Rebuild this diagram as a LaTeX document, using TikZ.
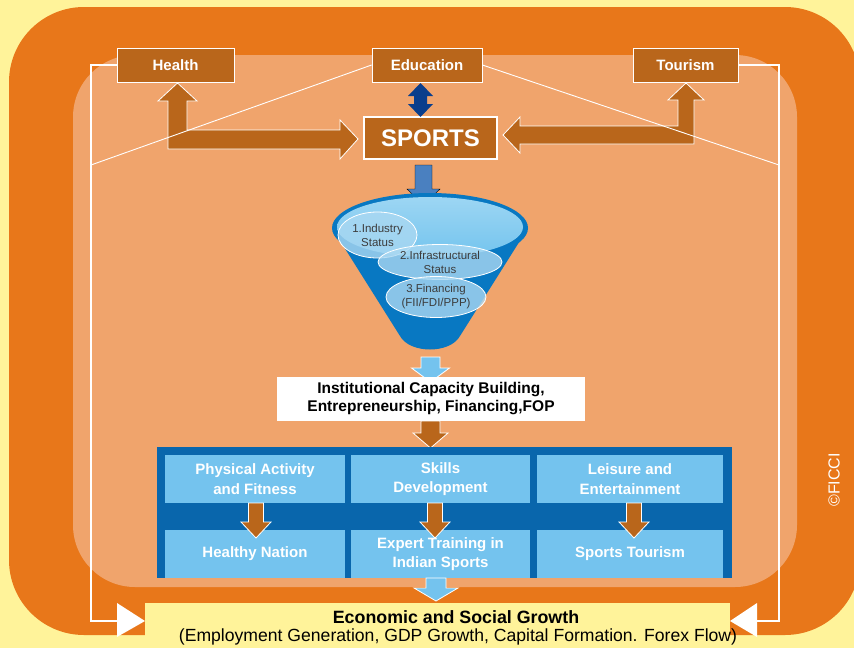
\documentclass[tikz,border=0pt]{standalone}
\usepackage{fontspec}
\setmainfont{Liberation Sans}
\usetikzlibrary{shapes.geometric}
\definecolor{bgY}{RGB}{255,243,154}
\definecolor{orO}{RGB}{232,119,26}
\definecolor{salm}{RGB}{240,164,108}
\definecolor{brn}{RGB}{185,102,27}
\definecolor{navy}{RGB}{10,62,140}
\definecolor{panelB}{RGB}{9,102,172}
\definecolor{cellB}{RGB}{116,195,238}
\definecolor{arrB}{RGB}{74,128,192}
\definecolor{funB}{RGB}{8,120,194}
\definecolor{funL}{RGB}{115,196,238}
\definecolor{ellB}{RGB}{170,216,242}
\definecolor{txtG}{RGB}{60,60,60}
\newcommand\dnarrow[7]{% style, xc, ytop, ybase, ytip, half shaft, half head
  \filldraw[#1] (#2-#6,#3) -- (#2+#6,#3) -- (#2+#6,#4) -- (#2+#7,#4) -- (#2,#5) -- (#2-#7,#4) -- (#2-#6,#4) -- cycle;}
\tikzset{
  topbox/.style={fill=brn, draw=white, line width=0.8pt, text=white,
    font=\bfseries\fontsize{15}{18}\selectfont, minimum height=34pt, inner sep=0pt},
  cellbox/.style={fill=cellB, text=white, font=\bfseries\fontsize{15}{19.5}\selectfont,
    align=center, inner sep=0pt},
  frameline/.style={white, line width=1.1pt},
  brownarrow/.style={fill=brn, draw=white, line width=0.8pt},
  lbluearrow/.style={fill=cellB, draw=white, line width=0.8pt},
  funell/.style={ellipse, fill=ellB, fill opacity=0.8, text opacity=1, draw=white, line width=0.8pt,
    text=txtG, font=\fontsize{11.5}{14}\selectfont, align=center, inner sep=0pt},
}
\begin{document}
\begin{tikzpicture}[x=1pt,y=-1pt]
\useasboundingbox (0,0) rectangle (854,648);
\fill[bgY] (0,0) rectangle (854,648);
\fill[orO, rounded corners=75pt] (9,7) rectangle (860,635);
\fill[salm, rounded corners=62pt] (73,55) rectangle (797,587);

% top boxes
\node[topbox, minimum width=117pt] (health) at (175.5,65) {Health};
\node[topbox, minimum width=110pt] (edu) at (427,65) {Education};
\node[topbox, minimum width=105pt] (tour) at (685.5,65) {Tourism};
\node[fill=brn, draw=white, line width=1.2pt, text=white, minimum width=133pt, minimum height=42pt,
  inner sep=0pt, font=\bfseries\fontsize{24}{28}\selectfont] (sports) at (430.5,138) {SPORTS};

% L-shaped block arrows
\filldraw[brownarrow] (177.5,83) -- (197,101) -- (187,101) -- (187,130) -- (340,130) -- (340,120)
  -- (358,139) -- (340,159) -- (340,149) -- (168,149) -- (168,101) -- (158,101) -- cycle;
\filldraw[brownarrow] (503,135) -- (520,117) -- (520,126) -- (678,126) -- (678,100) -- (668,100)
  -- (686,83) -- (704,100) -- (694,100) -- (694,144) -- (520,144) -- (520,153) -- cycle;
% double arrow education-sports
\fill[navy] (420.5,83) -- (433,96) -- (427,96) -- (427,104) -- (433,104) -- (420.5,117)
  -- (408,104) -- (414,104) -- (414,96) -- (408,96) -- cycle;

% frame lines
\coordinate (fl) at (91,621);
\coordinate (fr) at (779,621);
\coordinate (dl) at (91,165);
\coordinate (dr) at (779,165);
\draw[frameline] (health.west) -| (fl) -- (117,621);
\draw[frameline] (tour.east) -| (fr) -- (757,621);
\draw[frameline, line width=0.9pt] (edu.west) -- (dl);
\draw[frameline, line width=0.9pt] (edu.east) -- (dr);
% redraw boxes over lines
\node[topbox, minimum width=117pt] at (health) {Health};
\node[topbox, minimum width=110pt] at (edu) {Education};
\node[topbox, minimum width=105pt] at (tour) {Tourism};

% arrow sports -> funnel
\dnarrow{fill=arrB}{423.5}{165}{189}{205}{8.5}{16.5}

% funnel
\fill[funB] (332,228) -- (400,336) .. controls (410,354) and (450,354) .. (460,336) -- (528,228) -- cycle;
\fill[funB] (430,228) ellipse [x radius=98, y radius=35];
\shade[top color=funL!70!white, bottom color=funL] (430,227) ellipse [x radius=93, y radius=30];
\node[funell, minimum width=79pt, minimum height=46pt] (e1) at (377.5,235) {1.Industry\\Status};
\node[funell, minimum width=124pt, minimum height=35pt] (e2) at (440,262) {2.Infrastructural\\Status};
\node[funell, minimum width=100pt, minimum height=41pt] (e3) at (436,297) {3.Financing\\(FII/FDI/PPP)};

% arrow funnel -> institutional
\dnarrow{lbluearrow}{430.5}{357}{368}{382}{9.5}{19}
\node[fill=white, minimum width=308pt, minimum height=44pt, inner sep=0pt, align=center,
  font=\bfseries\fontsize{15.5}{18}\selectfont] (inst) at (431,399)
  {Institutional Capacity Building,\\Entrepreneurship, Financing,FOP};
\dnarrow{brownarrow}{430.5}{421}{433}{448}{9.5}{17.5}

% panel
\fill[panelB] (157,447) rectangle (732,578);
\node[cellbox, minimum width=180pt, minimum height=48pt] (c11) at (255,479) {Physical Activity\\and Fitness};
\node[cellbox, minimum width=179pt, minimum height=48pt] (c12) at (440.5,479) {Skills\\Development};
\node[cellbox, minimum width=186pt, minimum height=48pt] (c13) at (630,479) {Leisure and\\Entertainment};
\node[cellbox, minimum width=180pt, minimum height=48pt] (c21) at (255,554) {Healthy Nation};
\node[cellbox, minimum width=179pt, minimum height=48pt] (c22) at (440.5,554) {Expert Training in\\Indian Sports};
\node[cellbox, minimum width=186pt, minimum height=48pt] (c23) at (630,554) {Sports Tourism};
\dnarrow{brownarrow}{256}{503}{522}{538}{7.5}{15}
\dnarrow{brownarrow}{435}{503}{522}{538}{7.5}{15}
\dnarrow{brownarrow}{634}{503}{522}{538}{7.5}{15}

% bottom
\dnarrow{lbluearrow}{436}{578}{588}{601}{10}{22}
\fill[bgY] (145,603) rectangle (730,648);
\node[font=\bfseries\fontsize{17.8}{20}\selectfont, inner sep=0pt] (eco) at (456,617) {Economic and Social Growth};
\node[font=\fontsize{17.6}{19}\selectfont, inner sep=0pt] (eco2) at (458,637)
  {(Employment Generation, GDP Growth, Capital Formation. Forex Flow)};
\fill[white] (117,603) -- (145,621) -- (117,637) -- cycle;
\fill[white] (757,603) -- (730,621) -- (757,637) -- cycle;

\node[rotate=90, text=white, font=\fontsize{16}{19}\selectfont, inner sep=0pt] (ficci) at (834,480) {©FICCI};
\end{tikzpicture}
\end{document}
